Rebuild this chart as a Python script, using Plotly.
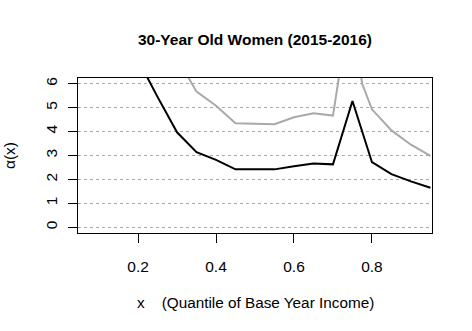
import plotly.graph_objects as go

# quantile grid and alpha(x) estimates
x_est = [0.20, 0.25, 0.30, 0.35, 0.40, 0.45, 0.50, 0.55, 0.60, 0.65,
         0.70, 0.75, 0.80, 0.85, 0.90, 0.95]
alpha_est = [7.00, 5.45, 3.97, 3.14, 2.82, 2.42, 2.42, 2.42, 2.55, 2.67,
             2.63, 5.28, 2.72, 2.22, 1.92, 1.65]

# upper band (gray), a couple of extra points around the spike
x_upper = [0.20, 0.25, 0.30, 0.35, 0.40, 0.45, 0.50, 0.55, 0.60, 0.65,
           0.70, 0.725, 0.75, 0.775, 0.80, 0.85, 0.90, 0.95]
alpha_upper = [12.5, 9.7, 7.08, 5.67, 5.08, 4.35, 4.32, 4.31, 4.60, 4.77,
               4.67, 7.30, 8.50, 6.00, 4.93, 4.05, 3.45, 2.98]

x_ticks = [0.2, 0.4, 0.6, 0.8]
x_tick_labels = ["0.2", "0.4", "0.6", "0.8"]
y_ticks = [0, 1, 2, 3, 4, 5, 6]
y_tick_labels = ["0", "1", "2", "3", "4", "5", "6"]

font_family = "Liberation Sans, Arial, sans-serif"

fig = go.Figure()

fig.add_trace(
    go.Scatter(
        x=x_upper,
        y=alpha_upper,
        mode="lines",
        line=dict(color="#a9a9a9", width=2),
        showlegend=False,
    )
)

fig.add_trace(
    go.Scatter(
        x=x_est,
        y=alpha_est,
        mode="lines",
        line=dict(color="black", width=2),
        showlegend=False,
    )
)

fig.update_layout(
    width=472,
    height=331,
    margin=dict(l=78, r=40, t=78, b=98, autoexpand=False),
    paper_bgcolor="white",
    plot_bgcolor="white",
    font=dict(family=font_family, size=15, color="black"),
    title=dict(
        text="<b>30-Year Old Women (2015-2016)</b>",
        x=0.5,
        xref="paper",
        y=1 - 40 / 331,
        yref="container",
        yanchor="middle",
        automargin=False,
        font=dict(size=15.5, family=font_family, color="black"),
    ),
    xaxis=dict(
        range=[0.046, 0.954],
        tickvals=x_ticks,
        ticktext=x_tick_labels,
        ticks="outside",
        ticklen=9,
        tickcolor="black",
        ticklabelstandoff=10,
        showline=True,
        linecolor="black",
        linewidth=1,
        mirror=True,
        showgrid=False,
        zeroline=False,
        automargin=False,
        tickfont=dict(size=15.5),
    ),
    yaxis=dict(
        range=[-0.24, 6.24],
        tickvals=y_ticks,
        ticktext=y_tick_labels,
        ticks="outside",
        ticklen=9,
        tickcolor="black",
        tickangle=-90,
        ticklabelstandoff=5,
        showline=True,
        linecolor="black",
        linewidth=1,
        mirror=True,
        showgrid=True,
        gridcolor="#a8a8a8",
        griddash="dot",
        gridwidth=1,
        zeroline=False,
        automargin=False,
        tickfont=dict(size=15.5),
    ),
    annotations=[
        dict(
            text="x\u00a0\u00a0\u00a0\u00a0(Quantile of Base Year Income)",
            xref="paper",
            yref="paper",
            x=0.5,
            y=-(302 - 233) / 155,
            xanchor="center",
            yanchor="middle",
            showarrow=False,
            font=dict(size=15.3),
        ),
        dict(
            text="α(x)",
            xref="paper",
            yref="paper",
            x=-(78 - 9.5) / 354,
            y=0.5,
            xanchor="center",
            yanchor="middle",
            textangle=-90,
            showarrow=False,
            font=dict(size=15.5),
        ),
    ],
)

# drop the default page margin so the figure sits at the window's corner
fig.write_html(
    "out.html",
    config={"displayModeBar": False},
    post_script="document.body.style.margin='0';",
)
